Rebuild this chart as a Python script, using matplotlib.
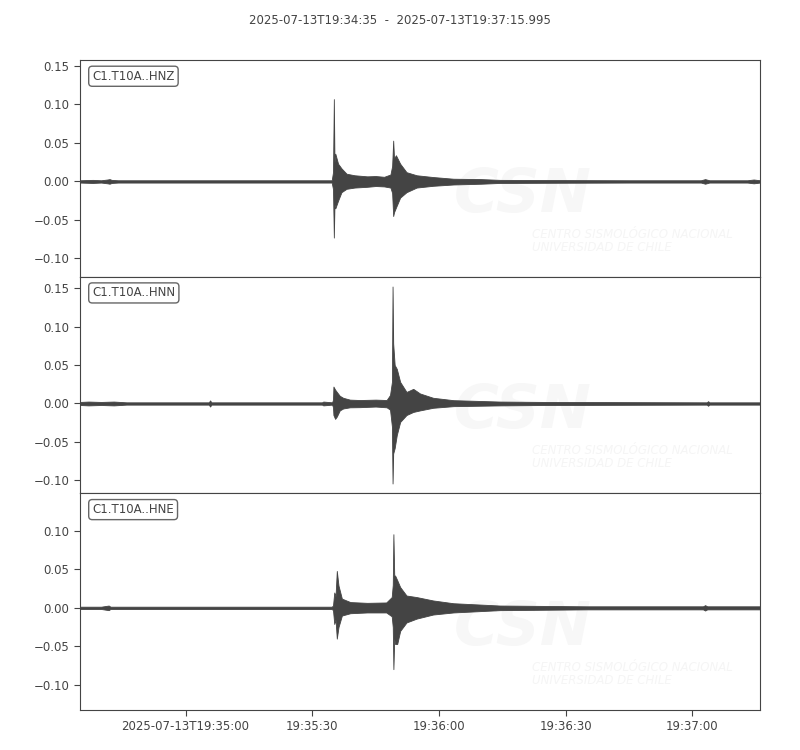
import matplotlib
matplotlib.use("Agg")
import matplotlib.pyplot as plt

# Seismogram envelopes.
# Time is seconds after 2025-07-13T19:34:35, amplitudes in data units.
t_end = 160.995
title = "2025-07-13T19:34:35  -  2025-07-13T19:37:15.995"
channels = ["C1.T10A..HNZ", "C1.T10A..HNN", "C1.T10A..HNE"]

hnz_t = [0, 3, 5, 6.5, 7, 7.5, 9, 20, 40, 59.6, 59.9, 60.1, 60.25, 60.45, 61.1, 61.9,
         63.1, 65, 68, 70, 72, 73.5, 73.9, 74.15, 74.35, 74.8, 75.8, 77.3, 79.7, 83.6,
         88.4, 95, 99.4, 110, 130, 147, 148, 149, 158, 159.5, 161]
hnz_up = [0.0015, 0.002, 0.0015, 0.0025, 0.003, 0.002, 0.0015, 0.0015, 0.0015, 0.0015,
          0.012, 0.107, 0.025, 0.036, 0.023, 0.017, 0.010, 0.008, 0.0066, 0.007, 0.006,
          0.009, 0.020, 0.053, 0.030, 0.034, 0.023, 0.012, 0.008, 0.0057, 0.0035, 0.003,
          0.002, 0.0018, 0.0015, 0.0015, 0.003, 0.0015, 0.0015, 0.0025, 0.0015]
hnz_lo = [-0.0015, -0.002, -0.0015, -0.0025, -0.003, -0.002, -0.0015, -0.0015, -0.0015,
          -0.0015, -0.010, -0.073, -0.030, -0.035, -0.025, -0.014, -0.0096, -0.008,
          -0.007, -0.006, -0.0065, -0.008, -0.015, -0.045, -0.040, -0.034, -0.021,
          -0.014, -0.008, -0.0057, -0.004, -0.003, -0.002, -0.0018, -0.0015, -0.0015,
          -0.003, -0.0015, -0.0015, -0.0025, -0.0015]

hnn_t = [0, 2, 5, 8, 11, 20, 30.5, 30.8, 31.1, 40, 57.3, 57.6, 59.7, 59.9, 60.0, 60.4,
         60.8, 61.5, 62.3, 63.9, 66.3, 70, 72.6, 73.4, 73.85, 74.0, 74.15, 74.5, 75.0,
         75.8, 77.3, 78.9, 80.5, 83.6, 88.4, 99.4, 110, 148.4, 148.7, 149, 161]
hnn_up = [0.002, 0.0025, 0.002, 0.0025, 0.0015, 0.0015, 0.0015, 0.004, 0.0015, 0.0015,
          0.0015, 0.0025, 0.0015, 0.005, 0.022, 0.018, 0.015, 0.010, 0.0074, 0.005,
          0.0045, 0.005, 0.0045, 0.011, 0.028, 0.152, 0.078, 0.050, 0.045, 0.028, 0.015,
          0.019, 0.013, 0.0074, 0.0043, 0.0025, 0.002, 0.0015, 0.003, 0.0015, 0.0015]
hnn_lo = [-0.002, -0.0025, -0.002, -0.0025, -0.0015, -0.0015, -0.0015, -0.004, -0.0015,
          -0.0015, -0.0015, -0.0025, -0.0015, -0.005, -0.015, -0.020, -0.017, -0.009,
          -0.0065, -0.005, -0.0048, -0.004, -0.005, -0.008, -0.030, -0.104, -0.065,
          -0.058, -0.041, -0.024, -0.015, -0.011, -0.009, -0.0056, -0.0035, -0.0025,
          -0.002, -0.0015, -0.003, -0.0015, -0.0015]

hne_t = [0, 5, 6.8, 7.2, 9, 30, 59.6, 59.9, 60.2, 60.5, 60.8, 61.2, 62.0, 64, 68, 72.5,
         73.8, 74.05, 74.2, 74.4, 74.6, 75.1, 75.8, 77.3, 79.7, 83.6, 88.4, 99.4, 120,
         147.5, 148, 148.5, 161]
hne_up = [0.0015, 0.0015, 0.003, 0.0015, 0.0015, 0.0015, 0.0015, 0.003, 0.020, 0.015,
          0.048, 0.029, 0.012, 0.0075, 0.0065, 0.007, 0.014, 0.030, 0.0957, 0.042,
          0.042, 0.036, 0.027, 0.016, 0.014, 0.0096, 0.006, 0.003, 0.002, 0.002,
          0.0035, 0.002, 0.002]
hne_lo = [-0.0015, -0.0015, -0.003, -0.0015, -0.0015, -0.0015, -0.0015, -0.003, -0.021,
          -0.015, -0.040, -0.025, -0.010, -0.007, -0.006, -0.006, -0.011, -0.025,
          -0.0797, -0.040, -0.047, -0.047, -0.030, -0.019, -0.014, -0.0087, -0.006,
          -0.003, -0.002, -0.002, -0.0035, -0.002, -0.002]

tick_pos = [25, 55, 85, 115, 145]
tick_labels = ["2025-07-13T19:35:00", "19:35:30", "19:36:00", "19:36:30", "19:37:00"]

traces = [(hnz_t, hnz_up, hnz_lo), (hnn_t, hnn_up, hnn_lo), (hne_t, hne_up, hne_lo)]

grey = "#444444"
plt.rcParams["font.family"] = "DejaVu Sans"
plt.rcParams["font.size"] = 8.5

fig, axes = plt.subplots(3, 1, figsize=(8, 7.5), dpi=100, sharex=True)
fig.subplots_adjust(left=0.1, right=0.95, top=0.92, bottom=0.0533, hspace=0)
fig.suptitle(title, y=0.982, fontsize=8.5, color=grey)

# same vertical scale for every trace, centred on each trace
span = max(max(u) - min(l) for _, u, l in traces) * 1.1

for ax, name, (t, up, lo) in zip(axes, channels, traces):
    # faint CSN watermark
    ax.text(0.55, 0.30, "CSN", transform=ax.transAxes, fontsize=44, fontweight="bold",
            style="italic", color="#f7f7f7", zorder=0, clip_on=True)
    ax.text(0.665, 0.12, "CENTRO SISMOLÓGICO NACIONAL\nUNIVERSIDAD DE CHILE",
            transform=ax.transAxes, fontsize=8.5, style="italic", color="#f5f5f5",
            linespacing=1.0, zorder=0, clip_on=True)

    ax.fill_between(t, lo, up, color=grey, lw=0.6, zorder=2)
    mid = (max(up) + min(lo)) / 2
    ax.set_ylim(mid - span / 2, mid + span / 2)
    ax.set_xlim(0, t_end)

    ax.text(0.018, 0.955, name, transform=ax.transAxes, ha="left", va="top",
            color=grey, fontsize=8.5,
            bbox=dict(boxstyle="round,pad=0.3", fc="white", ec="#666666", lw=1))

    for s in ax.spines.values():
        s.set_color(grey)
    ax.tick_params(colors=grey, labelcolor=grey, direction="out", length=4)
    ax.tick_params(axis="x", bottom=False)

axes[-1].tick_params(axis="x", bottom=True)
axes[-1].set_xticks(tick_pos)
axes[-1].set_xticklabels(tick_labels)

fig.savefig("out.png")
